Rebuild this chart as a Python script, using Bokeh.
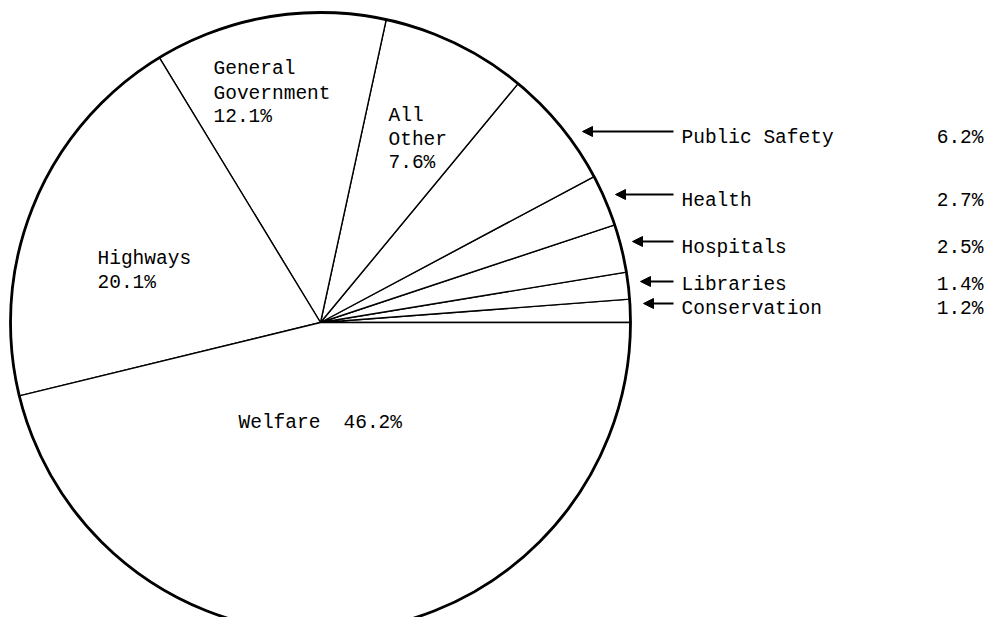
import numpy as np
from bokeh.plotting import figure
from bokeh.models import Range1d, ColumnDataSource, Arrow, NormalHead
from bokeh.core.properties import value
from bokeh.embed import file_html
from bokeh.resources import INLINE

# ---- data ----
categories = ["Conservation", "Libraries", "Hospitals", "Health", "Public Safety",
              "All Other", "General Government", "Highways", "Welfare"]
shares = [1.2, 1.4, 2.5, 2.7, 6.2, 7.6, 12.1, 20.1, 46.2]

# categories labelled outside the pie (right side, with arrows)
outside_names = ["Public Safety", "Health", "Hospitals", "Libraries", "Conservation"]
# categories labelled inside the pie, split into lines
inside_lines = {
    "All Other": ["All", "Other"],
    "General Government": ["General", "Government"],
    "Highways": ["Highways"],
}

# ---- layout (pixel-like coordinates, y downward negated) ----
W, H = 987, 617
CX, CY, R = 320, -322, 310
FONT = value("Liberation Mono")
FS = "19.5px"

p = figure(width=W, height=H, output_backend="svg", toolbar_location=None,
           x_range=Range1d(0, W), y_range=Range1d(-H, 0),
           min_border=0, outline_line_color=None, background_fill_color="white")
p.axis.visible = False
p.grid.visible = False

# wedges
fr = np.array(shares) / sum(shares)
ends = np.cumsum(fr) * 2 * np.pi
starts = np.concatenate([[0.0], ends[:-1]])
src = ColumnDataSource(dict(start=starts, end=ends, name=categories))
p.wedge(x=CX, y=CY, radius=R, start_angle="start", end_angle="end",
        direction="anticlock", source=src, fill_color="white",
        line_color="black", line_width=1.4)
p.circle(x=[CX], y=[CY], radius=R, fill_color=None, line_color="black", line_width=2.8)

def txt(x, y, s, align="left"):
    p.text(x=[x], y=[y], text=[s], text_font=FONT, text_font_size=FS,
           text_color="black", text_align=align, text_baseline="alphabetic")

def pct(name):
    return f"{shares[categories.index(name)]:.1f}%"

# inside labels
inside_pos = {
    "All Other": (388, [115, 139, 162]),
    "General Government": (213, [68, 93, 116]),
    "Highways": (97, [258, 282]),
}
for name, lines in inside_lines.items():
    x, ys = inside_pos[name]
    for s, yy in zip(lines + [pct(name)], ys):
        txt(x, -yy, s)

txt(238, -422, "Welfare")
txt(343, -422, pct("Welfare"))

# outside labels with arrows
out_base = [137, 200, 247, 284, 308]
arrow_tip = [582, 615, 632, 640, 643]
arrow_y = [131, 194, 241, 281, 303]
for name, yb in zip(outside_names, out_base):
    txt(681, -yb, name)
    txt(983, -yb, pct(name), align="right")

asrc = ColumnDataSource(dict(x0=[673] * len(arrow_tip), x1=arrow_tip,
                             y=[-v for v in arrow_y]))
p.add_layout(Arrow(source=asrc, x_start="x0", y_start="y", x_end="x1", y_end="y",
                   line_color="black", line_width=2,
                   end=NormalHead(size=10, fill_color="black", line_color="black", line_width=1)))

open("out.html", "w").write(file_html(p, INLINE))
